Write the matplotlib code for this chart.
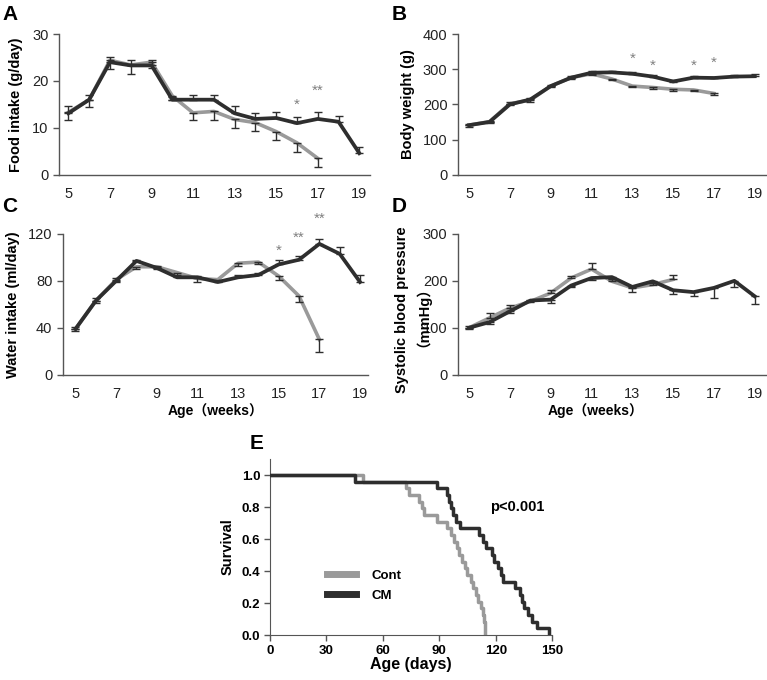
import numpy as np
import matplotlib
matplotlib.use("Agg")
import matplotlib.pyplot as plt
from matplotlib.lines import Line2D

plt.rcParams['font.family'] = ['Liberation Sans', 'Noto Sans CJK JP', 'DejaVu Sans']

GRAY = "#9a9a9a"
DARK = "#2e2e2e"
SPINE = "#555555"

weeks_cm = list(range(5, 20))
weeks_ct = list(range(5, 18))
weeks_ct_bp = list(range(5, 16))

# A: food intake (g/day)
food_cm = [13.1, 16.0, 24.0, 23.3, 23.3, 16.0, 16.0, 16.0, 13.1, 11.9, 12.1, 11.0, 11.9, 11.3, 4.6]
food_cm_err = [1.5, 1.1, 1.2, 1.1, 1.2, 0.5, 1.1, 1.1, 1.5, 1.2, 1.3, 1.4, 1.4, 1.3, 1.4]
food_ct = [13.3, 16.0, 24.4, 23.4, 24.0, 16.8, 13.2, 13.5, 11.8, 11.1, 9.2, 6.8, 3.5]
food_ct_err = [1.7, 1.6, 1.8, 1.9, 1.3, 0.9, 1.6, 1.8, 1.8, 1.7, 1.7, 2.0, 1.9]
food_stars = [(16, 14.9, "*"), (17, 18.0, "**")]

# B: body weight (g)
bw_cm = [141, 150, 200, 214, 252, 276, 290, 291, 287, 279, 265, 276, 275, 279, 280]
bw_cm_err = [4, 4, 6, 5, 4, 4, 4, 4, 4, 4, 4, 4, 4, 4, 5]
bw_ct = [141, 151, 202, 212, 252, 276, 287, 272, 252, 248, 243, 241, 231]
bw_ct_err = [4, 4, 5, 4, 4, 4, 4, 4, 4, 4, 4, 4, 4]
bw_stars = [(13, 329, "*"), (14, 310, "*"), (16, 310, "*"), (17, 319, "*")]

# C: water intake (ml/day)
water_cm = [39, 63, 80, 97, 91, 83, 83, 79, 83, 85, 94, 98, 111.5, 103, 79]
water_cm_err = [1.5, 2, 2, 1, 1.5, 1.5, 1.5, 1, 2, 2, 3.5, 3, 4.5, 5.6, 6]
water_ct = [39, 63, 81, 92, 92, 87, 82, 81, 95, 96, 84, 67, 30]
water_ct_err = [2, 2, 2, 2, 1.5, 2, 3, 1.5, 2, 2, 3.5, 5, 11]
water_stars = [(15, 106, "*"), (16, 117, "**"), (17, 133, "**")]

# D: systolic blood pressure (mmHg)
sbp_cm = [100, 112, 135, 158, 160, 190, 206, 208, 187, 199, 180, 176, 185, 200, 167]
sbp_cm_err = [2, 3, 4, 4, 7, 4, 4, 4, 11, 3, 9, 9, 22, 13, 16]
sbp_ct = [100, 121, 142, 156, 174, 206, 225, 199, 185, 192, 203]
sbp_ct_err = [3, 10, 6, 3, 7, 5, 12, 4, 3, 4, 10]

# E: days of death, n=24 each
death_ct = [49.4, 72.3, 73.7, 79, 81, 82, 88.8, 94, 96, 97.7, 99.5, 100.7, 102,
            103.4, 104.8, 106.6, 108, 109.4, 110.5, 112, 113, 113.7, 114.2, 114.5]
death_cm = [45.3, 88.8, 94, 95, 96, 97, 99, 101, 111, 113, 115, 118, 119, 121,
            123, 124, 130, 133, 134, 135, 137, 139, 142, 148.5]


def style_axes(ax, xlim, ylim, yticks):
    ax.set_xlim(*xlim)
    ax.set_ylim(*ylim)
    ax.set_xticks(range(5, 20, 2))
    ax.set_yticks(yticks)
    for s in ["top", "right"]:
        ax.spines[s].set_visible(False)
    for s in ["left", "bottom"]:
        ax.spines[s].set_color(SPINE)
        ax.spines[s].set_linewidth(1.0)
    ax.tick_params(axis="x", length=0, pad=9, labelsize=10.5, colors="#222222")
    ax.tick_params(axis="y", length=4, width=1, color=SPINE, labelsize=10.5,
                   labelcolor="#222222")


def draw_pair(ax, xc, yc, ec, xg, yg, eg, gray_up=False):
    ax.plot(xg, yg, color=GRAY, lw=2.6, zorder=2)
    ax.plot(xc, yc, color=DARK, lw=2.7, zorder=3)
    zc = [0] * len(ec)
    zg = [0] * len(eg)
    if gray_up:
        ax.errorbar(xg, yg, yerr=[zg, eg], fmt="none", ecolor=DARK, elinewidth=1,
                    capsize=3, capthick=1, zorder=4)
        ax.errorbar(xc, yc, yerr=[ec, zc], fmt="none", ecolor=DARK, elinewidth=1,
                    capsize=3, capthick=1, zorder=4)
    else:
        ax.errorbar(xc, yc, yerr=[zc, ec], fmt="none", ecolor=DARK, elinewidth=1,
                    capsize=3, capthick=1, zorder=4)
        ax.errorbar(xg, yg, yerr=[eg, zg], fmt="none", ecolor=DARK, elinewidth=1,
                    capsize=3, capthick=1, zorder=4)


def stars(ax, items):
    for x, y, s in items:
        ax.text(x, y, s, ha="center", va="center", color="#808080", fontsize=11)


fig = plt.figure(figsize=(7.67, 6.8), dpi=100)

axA = fig.add_axes([0.077, 0.743, 0.405, 0.207])
draw_pair(axA, weeks_cm, food_cm, food_cm_err, weeks_ct, food_ct, food_ct_err)
style_axes(axA, (4.55, 19.5), (0, 30), [0, 10, 20, 30])
stars(axA, food_stars)
axA.set_ylabel("Food intake (g/day)", fontweight="bold", fontsize=10.5, labelpad=7)

axB = fig.add_axes([0.597, 0.743, 0.403, 0.207])
draw_pair(axB, weeks_cm, bw_cm, bw_cm_err, weeks_ct, bw_ct, bw_ct_err)
style_axes(axB, (4.45, 19.6), (0, 400), [0, 100, 200, 300, 400])
stars(axB, bw_stars)
axB.set_ylabel("Body weight (g)", fontweight="bold", fontsize=10.5, labelpad=6)

axC = fig.add_axes([0.082, 0.449, 0.398, 0.207])
draw_pair(axC, weeks_cm, water_cm, water_cm_err, weeks_ct, water_ct, water_ct_err)
style_axes(axC, (4.38, 19.4), (0, 120), [0, 40, 80, 120])
stars(axC, water_stars)
axC.set_ylabel("Water intake (ml/day)", fontweight="bold", fontsize=10.5, labelpad=6)
axC.set_xlabel("Age（weeks）", fontweight="bold", fontsize=10)
axC.xaxis.set_label_coords(0.5, -0.2)

axD = fig.add_axes([0.597, 0.449, 0.403, 0.207])
draw_pair(axD, weeks_cm, sbp_cm, sbp_cm_err, weeks_ct_bp, sbp_ct, sbp_ct_err,
          gray_up=True)
style_axes(axD, (4.45, 19.6), (0, 300), [0, 100, 200, 300])
axD.set_ylabel("Systolic blood pressure\n（mmHg）", fontweight="bold", fontsize=10.5,
               linespacing=0.9)
axD.yaxis.set_label_coords(-0.112, 0.46)
axD.set_xlabel("Age（weeks）", fontweight="bold", fontsize=10)
axD.xaxis.set_label_coords(0.445, -0.2)

# E: survival
axE = fig.add_axes([0.352, 0.066, 0.368, 0.259])
n = len(death_ct)
for days, col in [(death_ct, GRAY), (death_cm, DARK)]:
    t = np.concatenate([[0], np.sort(days)])
    surv = 1 - np.arange(len(t)) / n
    axE.step(t, surv, where="post", color=col, lw=2.5, zorder=3 if col == DARK else 2)
axE.set_xlim(0, 150)
axE.set_ylim(0, 1.1)
axE.set_xticks([0, 30, 60, 90, 120, 150])
axE.set_yticks([0.0, 0.2, 0.4, 0.6, 0.8, 1.0])
axE.set_yticklabels(["0.0", "0.2", "0.4", "0.6", "0.8", "1.0"])
for s in ["top", "right"]:
    axE.spines[s].set_visible(False)
for s in ["left", "bottom"]:
    axE.spines[s].set_color(SPINE)
axE.tick_params(length=4, width=1, color=SPINE, labelsize=9.5, pad=3)
for lab in axE.get_xticklabels() + axE.get_yticklabels():
    lab.set_fontweight("bold")
axE.set_ylabel("Survival", fontweight="bold", fontsize=10.5, labelpad=5)
axE.set_xlabel("Age (days)", fontweight="bold", fontsize=11.5, labelpad=0)
axE.text(117, 0.80, "p<0.001", fontweight="bold", fontsize=10.5, va="center")
handles = [Line2D([], [], color=GRAY, lw=5), Line2D([], [], color=DARK, lw=5)]
axE.legend(handles, ["Cont", "CM"], frameon=False, loc="upper left",
           bbox_to_anchor=(0.16, 0.44), handlelength=2.2, handletextpad=1.2,
           labelspacing=0.6, prop={"weight": "bold", "size": 9.5})

for x, y, s in [(0.003, 0.993, "A"), (0.51, 0.993, "B"), (0.003, 0.71, "C"),
                (0.51, 0.71, "D"), (0.325, 0.362, "E")]:
    fig.text(x, y, s, fontsize=15, fontweight="bold", va="top")

fig.savefig("out.png", dpi=100)
